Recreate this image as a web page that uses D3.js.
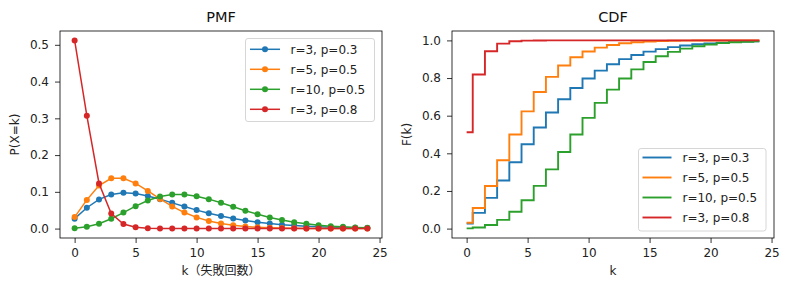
<!DOCTYPE html>
<html><head><meta charset="utf-8">
<script src="https://cdn.jsdelivr.net/npm/d3@7"></script>
<style>
body{margin:0;background:#fff;}
svg{display:block;font-family:"DejaVu Sans","Noto Sans CJK JP",sans-serif;}
</style></head><body>
<svg id="c" width="789" height="290"></svg>
<script>
const ks = d3.range(0, 25);
const seriesLabels = ["r=3, p=0.3", "r=5, p=0.5", "r=10, p=0.5", "r=3, p=0.8"];
const colors = ["#1f77b4", "#ff7f0e", "#2ca02c", "#d62728"];
const pmf_r3_p03 = [0.0270,0.0567,0.0794,0.0926,0.0972,0.0953,0.0889,0.0801,0.0700,0.0599,0.0503,0.0416,0.0340,0.0275,0.0220,0.0174,0.0137,0.0107,0.0084,0.0065,0.0050,0.0038,0.0029,0.0022,0.0017];
const pmf_r5_p05 = [0.0313,0.0781,0.1172,0.1367,0.1367,0.1230,0.1025,0.0806,0.0604,0.0436,0.0305,0.0208,0.0139,0.0091,0.0058,0.0037,0.0023,0.0014,0.0009,0.0005,0.0003,0.0002,0.0001,0.0001,0.0000];
const pmf_r10_p05 = [0.0010,0.0049,0.0134,0.0269,0.0436,0.0611,0.0764,0.0873,0.0927,0.0927,0.0881,0.0801,0.0701,0.0593,0.0487,0.0390,0.0304,0.0233,0.0175,0.0129,0.0093,0.0067,0.0047,0.0033,0.0022];
const pmf_r3_p08 = [0.5120,0.3072,0.1229,0.0410,0.0123,0.0034,0.0009,0.0002,0.0001,0.0000,0,0,0,0,0,0,0,0,0,0,0,0,0,0,0];
const cdf_r3_p03 = [0.0270,0.0837,0.1631,0.2557,0.3529,0.4482,0.5372,0.6172,0.6873,0.7472,0.7975,0.8392,0.8732,0.9007,0.9226,0.9401,0.9538,0.9645,0.9729,0.9793,0.9843,0.9881,0.9911,0.9933,0.9949];
const cdf_r5_p05 = [0.0313,0.1094,0.2266,0.3633,0.5000,0.6230,0.7256,0.8062,0.8666,0.9102,0.9408,0.9616,0.9755,0.9846,0.9904,0.9941,0.9964,0.9978,0.9987,0.9992,0.9995,0.9997,0.9998,0.9999,0.9999];
const cdf_r10_p05 = [0.0010,0.0059,0.0193,0.0461,0.0898,0.1509,0.2272,0.3145,0.4073,0.5000,0.5881,0.6682,0.7383,0.7976,0.8463,0.8852,0.9157,0.9390,0.9564,0.9693,0.9786,0.9853,0.9900,0.9932,0.9955];
const cdf_r3_p08 = [0.5120,0.8192,0.9421,0.9830,0.9953,0.9988,0.9997,0.9999,1.0000,1.0000,1.0000,1.0000,1.0000,1.0000,1.0000,1.0000,1.0000,1.0000,1.0000,1.0000,1.0000,1.0000,1.0000,1.0000,1.0000];
const xTicks = [0, 5, 10, 15, 20, 25];
const pmfTicks = [0.0, 0.1, 0.2, 0.3, 0.4, 0.5];
const cdfTicks = [0.0, 0.2, 0.4, 0.6, 0.8, 1.0];
const pmfSeries = [pmf_r3_p03, pmf_r5_p05, pmf_r10_p05, pmf_r3_p08];
const cdfSeries = [cdf_r3_p03, cdf_r5_p05, cdf_r10_p05, cdf_r3_p08];

const svg = d3.select("#c");
const plotTop = 31, plotBottom = 238;
const FONT = "DejaVu Sans, Noto Sans CJK JP, sans-serif";

function panel(left, right, yDomain, yTicks, title, xlabel, ylabel, yLabelX) {
  const x = d3.scaleLinear().domain([-1.2, 25.2]).range([left, right]);
  const y = d3.scaleLinear().domain(yDomain).range([plotBottom, plotTop]);
  const g = svg.append("g");
  const xa = g.append("g").attr("transform", `translate(0,${plotBottom})`)
    .call(d3.axisBottom(x).tickValues(xTicks).tickFormat(d3.format("d")).tickSize(5).tickPadding(5));
  const ya = g.append("g").attr("transform", `translate(${left},0)`)
    .call(d3.axisLeft(y).tickValues(yTicks).tickFormat(d3.format(".1f")).tickSize(5).tickPadding(6));
  [xa, ya].forEach(a => {
    a.select(".domain").remove();
    a.selectAll("line").attr("stroke", "#000").attr("stroke-width", 0.8);
    a.selectAll("text").attr("fill", "#222").attr("font-size", 12).attr("font-family", FONT);
  });
  g.append("text").attr("x", (left + right) / 2).attr("y", 22).attr("text-anchor", "middle")
    .attr("font-size", 14.5).attr("fill", "#111").text(title);
  g.append("text").attr("x", (left + right) / 2).attr("y", 275).attr("text-anchor", "middle")
    .attr("font-size", 12).attr("fill", "#222").text(xlabel);
  g.append("text").attr("transform", `translate(${yLabelX},${(plotTop + plotBottom) / 2}) rotate(-90)`)
    .attr("text-anchor", "middle").attr("font-size", 12).attr("fill", "#222").text(ylabel);
  return {x, y, g, frame: () => g.append("rect").attr("x", left).attr("y", plotTop).attr("width", right - left)
    .attr("height", plotBottom - plotTop).attr("fill", "none").attr("stroke", "#000").attr("stroke-width", 0.8)};
}

// PMF
const P = panel(60, 382, [-0.0256, 0.5376], pmfTicks, "PMF", "k（失敗回数）", "P(X=k)", 19);
pmfSeries.forEach((vals, i) => {
  const data = ks.map((k, j) => [k, vals[j]]);
  P.g.append("path").datum(data).attr("fill", "none").attr("stroke", colors[i]).attr("stroke-width", 1.5)
    .attr("d", d3.line().x(d => P.x(d[0])).y(d => P.y(d[1])));
  P.g.selectAll(null).data(data).enter().append("circle")
    .attr("cx", d => P.x(d[0])).attr("cy", d => P.y(d[1])).attr("r", 3).attr("fill", colors[i]);
});
P.frame();

// CDF
const C = panel(452, 774, [-0.04995, 1.04995], cdfTicks, "CDF", "k", "F(k)", 411);
cdfSeries.forEach((vals, i) => {
  const data = ks.map((k, j) => [k, vals[j]]);
  C.g.append("path").datum(data).attr("fill", "none").attr("stroke", colors[i]).attr("stroke-width", 1.9)
    .attr("d", d3.line().curve(d3.curveStep).x(d => C.x(d[0])).y(d => C.y(d[1])));
});
C.frame();

// Legends
function legend(x0, y0, w, h, lineX0, lineX1, textX, rowY, markers) {
  const lg = svg.append("g");
  lg.append("rect").attr("x", x0).attr("y", y0).attr("width", w).attr("height", h).attr("rx", 2.5)
    .attr("fill", "#fff").attr("fill-opacity", 0.8).attr("stroke", "#ccc").attr("stroke-width", 0.8);
  seriesLabels.forEach((lab, i) => {
    const yy = rowY + i * 20;
    lg.append("line").attr("x1", lineX0).attr("x2", lineX1).attr("y1", yy).attr("y2", yy)
      .attr("stroke", colors[i]).attr("stroke-width", markers ? 1.5 : 1.9);
    if (markers) lg.append("circle").attr("cx", (lineX0 + lineX1) / 2).attr("cy", yy).attr("r", 3).attr("fill", colors[i]);
    lg.append("text").attr("x", textX).attr("y", yy).attr("dy", "0.35em").attr("font-size", 12)
      .attr("fill", "#222").text(lab);
  });
}
legend(245.5, 38.5, 129, 83, 250, 280, 290.5, 49.3, true);
legend(638.5, 148.5, 127.5, 82.5, 642.5, 671.5, 682.5, 157.5, false);
</script>
</body></html>
